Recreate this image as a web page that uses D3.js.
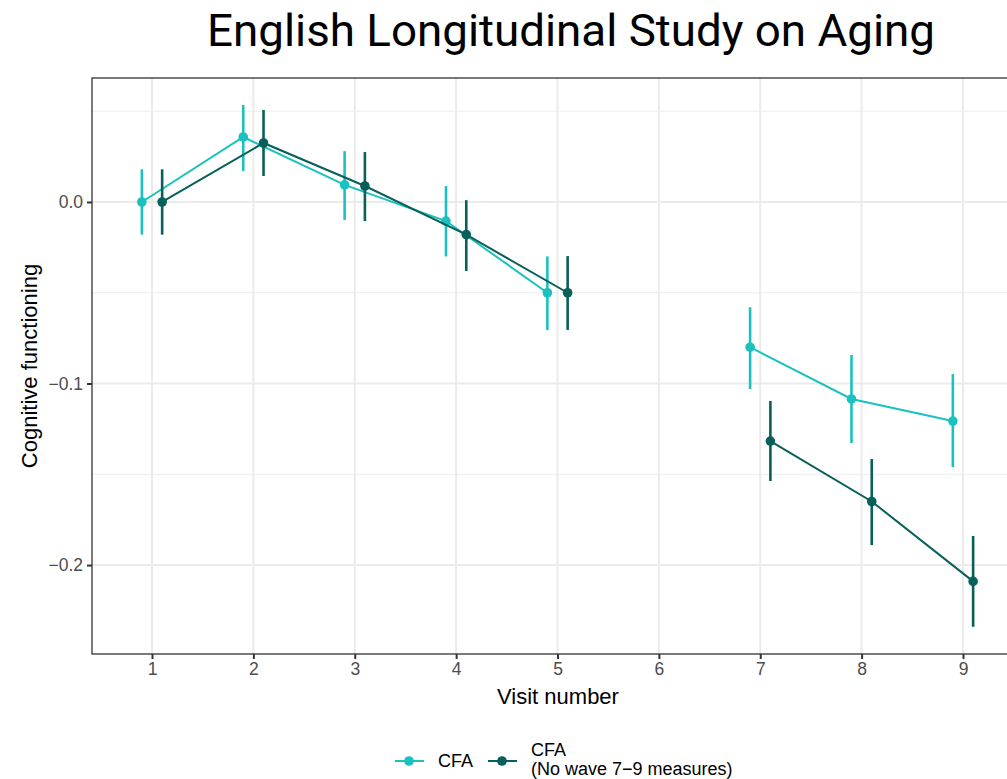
<!DOCTYPE html>
<html>
<head>
<meta charset="utf-8">
<script src="https://cdn.jsdelivr.net/npm/d3@7"></script>
<style>
  body { margin: 0; background: #fff; }
  text { font-family: "Liberation Sans", Arial, sans-serif; }
</style>
</head>
<body>
<div id="chart-area"></div>
<script>
// data (null = no measure at that visit)
const visits = [1, 2, 3, 4, 5, 6, 7, 8, 9]
const cfa = [0.0, 0.0358, 0.0094, -0.0105, -0.050, null, -0.080, -0.1085, -0.1207]
const cfaLow = [-0.018, 0.0171, -0.0099, -0.030, -0.0705, null, -0.103, -0.1328, -0.146]
const cfaHigh = [0.018, 0.0534, 0.028, 0.0088, -0.030, null, -0.058, -0.0843, -0.0948]
const noWave = [0.0, 0.0325, 0.0088, -0.018, -0.050, null, -0.1317, -0.165, -0.209]
const noWaveLow = [-0.018, 0.0143, -0.0105, -0.038, -0.0705, null, -0.1537, -0.189, -0.234]
const noWaveHigh = [0.018, 0.0507, 0.0275, 0.001, -0.0298, null, -0.1096, -0.1416, -0.184]
const yTicks = [0, -0.1, -0.2]
const yMinor = [0.05, -0.05, -0.15]
const seriesNames = ["CFA", "CFA\n(No wave 7\u22129 measures)"]
const colors = ["#1ac1be", "#07605a"]

const W = 1007, H = 779
const P = { left: 92, top: 78, right: 1023, bottom: 654 }

const svg = d3.select("#chart-area").append("svg")
    .attr("width", W)
    .attr("height", H)

const x = d3.scaleLinear().domain([0.408, 9.592]).range([P.left, P.right])
const y = d3.scaleLinear().domain([-0.249, 0.0683]).range([P.bottom, P.top])

// gridlines
svg.append("g").selectAll("line").data(yMinor).join("line")
    .attr("x1", P.left).attr("x2", P.right)
    .attr("y1", d => y(d)).attr("y2", d => y(d))
    .attr("stroke", "#ededed").attr("stroke-width", 1)
svg.append("g").selectAll("line").data(yTicks).join("line")
    .attr("x1", P.left).attr("x2", P.right)
    .attr("y1", d => y(d)).attr("y2", d => y(d))
    .attr("stroke", "#ebebeb").attr("stroke-width", 2)
svg.append("g").selectAll("line").data(visits).join("line")
    .attr("y1", P.top).attr("y2", P.bottom)
    .attr("x1", d => x(d)).attr("x2", d => x(d))
    .attr("stroke", "#ebebeb").attr("stroke-width", 2)

// series
const series = [
    { vals: cfa, lo: cfaLow, hi: cfaHigh, off: -0.1, color: colors[0] },
    { vals: noWave, lo: noWaveLow, hi: noWaveHigh, off: 0.1, color: colors[1] }
]

const line = d3.line()
    .defined(d => d.v !== null)
    .x(d => x(d.x))
    .y(d => y(d.v))

series.forEach(s => {
    const pts = visits.map((v, i) => ({ x: v + s.off, v: s.vals[i], lo: s.lo[i], hi: s.hi[i] }))
    const valid = pts.filter(d => d.v !== null)
    const g = svg.append("g")
    g.append("path")
        .attr("d", line(pts))
        .attr("fill", "none")
        .attr("stroke", s.color)
        .attr("stroke-width", 2)
    g.selectAll(".err").data(valid).join("line")
        .attr("x1", d => x(d.x)).attr("x2", d => x(d.x))
        .attr("y1", d => y(d.lo)).attr("y2", d => y(d.hi))
        .attr("stroke", s.color)
        .attr("stroke-width", 2.6)
    g.selectAll("circle").data(valid).join("circle")
        .attr("cx", d => x(d.x)).attr("cy", d => y(d.v))
        .attr("r", 4.8)
        .attr("fill", s.color)
})

// panel border
svg.append("rect")
    .attr("x", P.left).attr("y", P.top)
    .attr("width", P.right - P.left).attr("height", P.bottom - P.top)
    .attr("fill", "none")
    .attr("stroke", "#333").attr("stroke-width", 1.3)

// axes
const xAxis = svg.append("g")
    .attr("transform", `translate(0, ${P.bottom})`)
    .call(d3.axisBottom(x).tickValues(visits).tickSize(5).tickFormat(d3.format("d")))
const yAxis = svg.append("g")
    .attr("transform", `translate(${P.left}, 0)`)
    .call(d3.axisLeft(y).tickValues(yTicks).tickSize(5)
        .tickFormat(d => d === 0 ? "0.0" : d3.format(".1f")(d).replace("-", "\u2212")))
;[xAxis, yAxis].forEach(a => {
    a.select(".domain").remove()
    a.selectAll(".tick line").attr("stroke", "#333").attr("stroke-width", 2)
    a.selectAll(".tick text")
        .attr("fill", "#4d4d4d")
        .attr("font-size", "17.5px")
        .style("font-family", "'Liberation Sans', Arial, sans-serif")
})
xAxis.selectAll(".tick text").attr("dy", "0.71em").attr("y", 9)
yAxis.selectAll(".tick text").attr("x", -9)

// axis titles
svg.append("text")
    .attr("x", 558)
    .attr("y", 704)
    .attr("text-anchor", "middle")
    .attr("font-size", "22px")
    .attr("fill", "#000")
    .text("Visit number")
svg.append("text")
    .attr("transform", `translate(37, ${(P.top + P.bottom) / 2}) rotate(-90)`)
    .attr("text-anchor", "middle")
    .attr("font-size", "22px")
    .attr("fill", "#000")
    .text("Cognitive functioning")

// title
svg.append("text")
    .attr("x", 207)
    .attr("y", 46)
    .attr("font-size", "45px")
    .attr("textLength", 728)
    .attr("lengthAdjust", "spacingAndGlyphs")
    .style("font-family", "Roboto, 'Open Sans', sans-serif")
    .attr("fill", "#000")
    .text("English Longitudinal Study on Aging")

// legend
const legendX = [395, 488]
const legend = svg.append("g")
legendX.forEach((lx, i) => {
    legend.append("line")
        .attr("x1", lx).attr("x2", lx + 29)
        .attr("y1", 761).attr("y2", 761)
        .attr("stroke", colors[i]).attr("stroke-width", 2)
    legend.append("circle")
        .attr("cx", lx + 14).attr("cy", 761).attr("r", 4.8)
        .attr("fill", colors[i])
    const lines = seriesNames[i].split("\n")
    const t = legend.append("text")
        .attr("font-size", "18px")
        .attr("fill", "#000")
    lines.forEach((s, j) => {
        t.append("tspan")
            .attr("x", lx + 43)
            .attr("y", lines.length === 1 ? 767 : 756 + j * 19)
            .text(s)
    })
})
</script>
</body>
</html>
